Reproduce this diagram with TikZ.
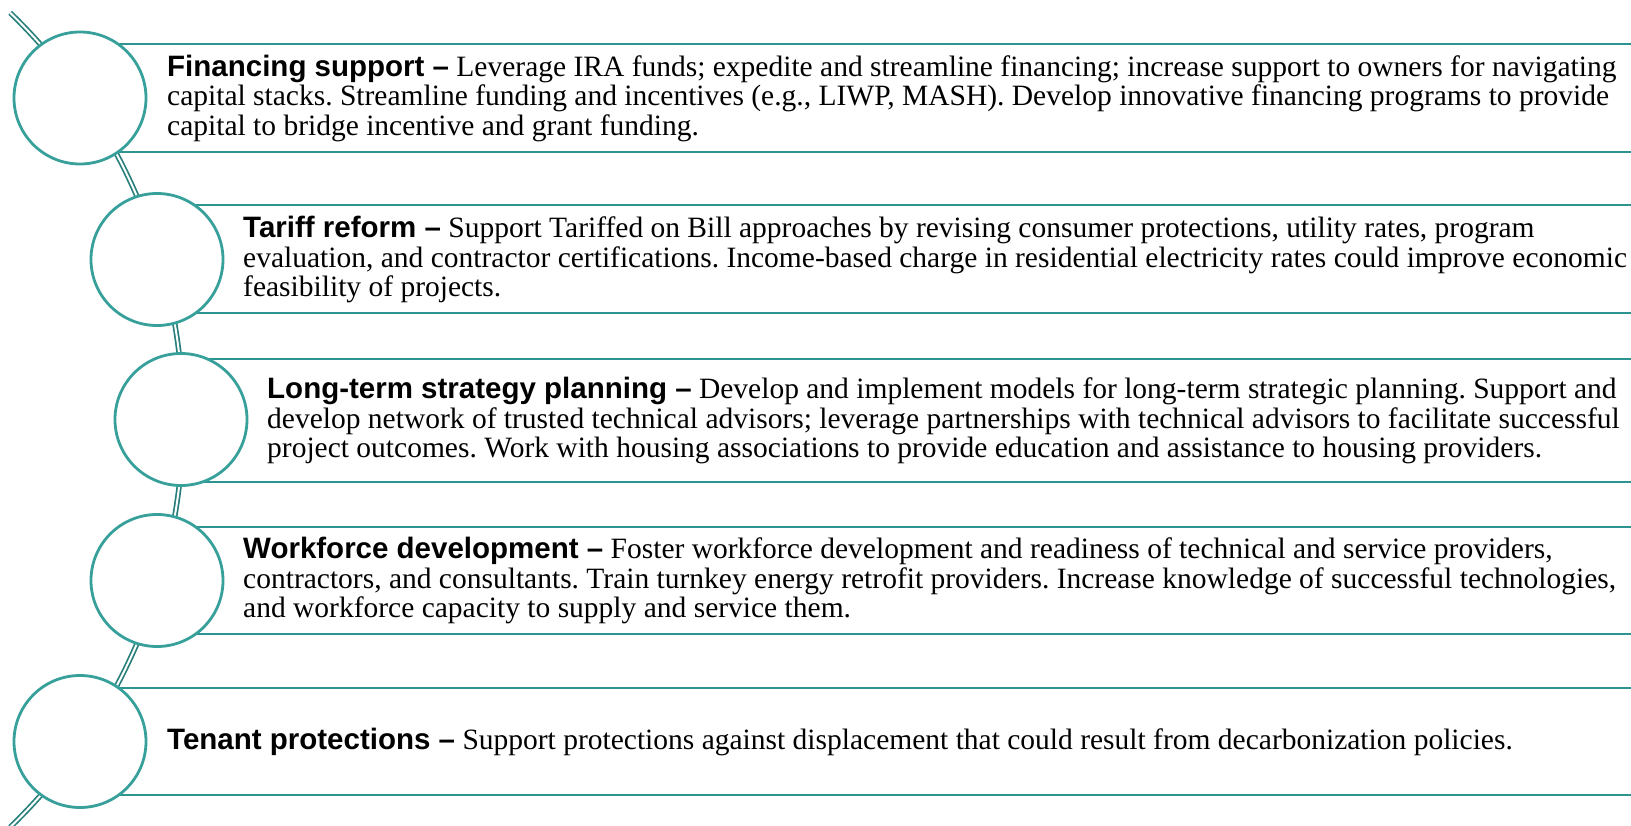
\documentclass[tikz,border=0pt]{standalone}
\usepackage{fontspec}
\setmainfont{Liberation Serif}
\newfontfamily\headfont{Liberation Sans}
\usepackage{tikz}
\usetikzlibrary{positioning}
\definecolor{tealring}{RGB}{56,160,154}
\definecolor{tealline}{RGB}{45,148,143}
\definecolor{tealspine}{RGB}{38,126,122}
\tikzset{
  bead/.style={circle, draw=tealring, line width=2.8pt, fill=white,
               minimum size=132pt, inner sep=0pt},
  band/.style={draw=tealline, line width=2.8pt},
  spine/.style={draw=tealspine, double=white, line width=1.7pt, double distance=2pt},
  item/.style={anchor=west, inner sep=0pt, align=left,
               font=\fontsize{29.5}{29.5}\selectfont\frenchspacing}
}
\newcommand{\hd}[1]{{\headfont\bfseries #1}}

\begin{document}
\begin{tikzpicture}[x=1pt, y=-1pt]
\useasboundingbox (0,0) rectangle (1631,826);
\coordinate (o) at (-383,420);
\draw[spine] (o) ++(46:566pt) arc[start angle=46, end angle=-46, radius=566pt];

\draw[band] (80,44) -- (1631,44);
\draw[band] (80,152) -- (1631,152);
\draw[band] (157,205) -- (1631,205);
\draw[band] (157,313) -- (1631,313);
\draw[band] (181,359) -- (1631,359);
\draw[band] (181,482) -- (1631,482);
\draw[band] (157,527) -- (1631,527);
\draw[band] (157,634) -- (1631,634);
\draw[band] (80,688) -- (1631,688);
\draw[band] (80,795) -- (1631,795);

\node[bead] (c1) at (80,98) {};
\node[bead] (c2) at (157,259.5) {};
\node[bead] (c3) at (181,419.5) {};
\node[bead] (c4) at (157,580.5) {};
\node[bead] (c5) at (80,741.5) {};

\node[item] (t1) at (167,98) {\hd{Financing support –} Leverage IRA funds; expedite and streamline financing; increase support to owners for navigating\\
  capital stacks. Streamline funding and incentives (e.g., LIWP, MASH). Develop innovative financing programs to provide\\
  capital to bridge incentive and grant funding.};
\node[item] (t2) at (243,259.5) {\hd{Tariff reform –} Support Tariffed on Bill approaches by revising consumer protections, utility rates, program\\
  evaluation, and contractor certifications. Income-based charge in residential electricity rates could improve economic\\
  feasibility of projects.};
\node[item] (t3) at (267,420.5) {\hd{Long-term strategy planning –} Develop and implement models for long-term strategic planning. Support and\\
  develop network of trusted technical advisors; leverage partnerships with technical advisors to facilitate successful\\
  project outcomes. Work with housing associations to provide education and assistance to housing providers.};
\node[item] (t4) at (243,580.5) {\hd{Workforce development –} Foster workforce development and readiness of technical and service providers,\\
  contractors, and consultants. Train turnkey energy retrofit providers. Increase knowledge of successful technologies,\\
  and workforce capacity to supply and service them.};
\node[item] (t5) at (167,741.5) {\hd{Tenant protections –} Support protections against displacement that could result from decarbonization policies.};
\end{tikzpicture}
\end{document}
